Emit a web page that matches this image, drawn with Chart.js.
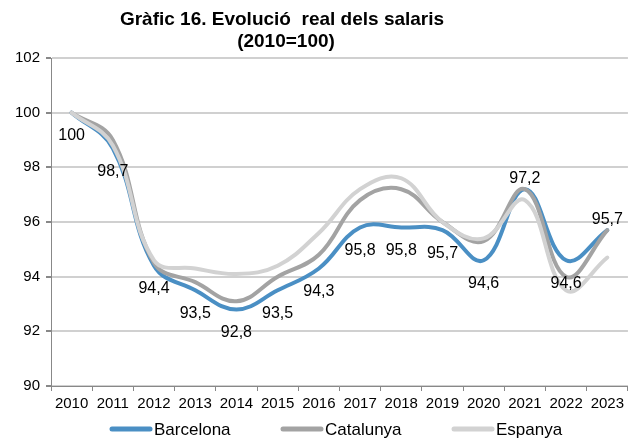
<!DOCTYPE html>
<html>
<head>
    <title>Gràfic 16</title>
    <style>
        body { margin: 0; background: #fff; }
        #wrap { width: 628px; height: 438px; position: relative; }
    </style>
</head>
<body>
    <div id="wrap"><canvas id="chart"></canvas></div>

    <script src="https://cdn.jsdelivr.net/npm/chart.js"></script>
    <script>
        const years = ['2010', '2011', '2012', '2013', '2014', '2015', '2016', '2017', '2018', '2019', '2020', '2021', '2022', '2023'];
        const barcelona = [100, 98.7, 94.4, 93.5, 92.8, 93.5, 94.3, 95.8, 95.8, 95.7, 94.6, 97.2, 94.6, 95.7];
        const catalunya = [100, 99.0, 94.5, 93.8, 93.1, 94.0, 94.8, 96.8, 97.2, 96.0, 95.3, 97.2, 94.0, 95.7];
        const espanya = [100, 98.8, 94.6, 94.3, 94.1, 94.4, 95.6, 97.2, 97.6, 96.0, 95.4, 96.8, 93.5, 94.7];
        // which Barcelona labels sit above the point
        const labelAbove = [false, false, false, false, false, false, false, false, false, false, false, true, false, true];
        const titleLines = ['Gràfic 16. Evolució  real dels salaris', '(2010=100)'];

        const fontName = '"Liberation Sans", Arial, sans-serif';

        // title, value labels and legend drawn on the canvas
        const extras = {
            id: 'extras',
            afterDatasetsDraw(chart) {
                const ctx = chart.ctx;
                ctx.save();
                ctx.fillStyle = '#000';
                ctx.textBaseline = 'middle';

                // title
                ctx.font = 'bold 19px ' + fontName;
                ctx.textAlign = 'center';
                ctx.fillText(titleLines[0], 282, 20);
                ctx.fillText(titleLines[1], 286, 42);

                // Barcelona values
                ctx.font = '16px ' + fontName;
                const meta = chart.getDatasetMeta(0);
                meta.data.forEach((pt, i) => {
                    const txt = barcelona[i].toString().replace('.', ',');
                    const dy = labelAbove[i] ? -11 : 23;
                    ctx.fillText(txt, pt.x, pt.y + dy);
                });

                // legend
                ctx.font = '17px ' + fontName;
                ctx.textAlign = 'left';
                chart.data.datasets.forEach((ds, i) => {
                    const x = 110 + i * 171;
                    ctx.strokeStyle = ds.borderColor;
                    ctx.lineWidth = 5;
                    ctx.lineCap = 'round';
                    ctx.beginPath();
                    ctx.moveTo(x + 2, 429);
                    ctx.lineTo(x + 40, 429);
                    ctx.stroke();
                    ctx.fillText(ds.label, x + 44, 430);
                });
                ctx.restore();
            }
        };

        const ctx = document.getElementById('chart').getContext('2d');
        new Chart(ctx, {
            type: 'line',
            data: {
                labels: years,
                datasets: [{
                    label: 'Barcelona',
                    data: barcelona,
                    borderColor: '#4a8fc4',
                    order: 3
                }, {
                    label: 'Catalunya',
                    data: catalunya,
                    borderColor: '#a3a3a3',
                    order: 2
                }, {
                    label: 'Espanya',
                    data: espanya,
                    borderColor: '#d2d2d2',
                    order: 1
                }]
            },
            options: {
                responsive: true,
                maintainAspectRatio: false,
                animation: false,
                layout: { padding: { left: 0, right: 0, top: 58, bottom: 21 } },
                elements: {
                    line: { borderWidth: 4, tension: 0.4, borderCapStyle: 'round' },
                    point: { radius: 0 }
                },
                plugins: {
                    title: { display: false },
                    legend: { display: false },
                    tooltip: { enabled: false }
                },
                scales: {
                    x: {
                        offset: true,
                        grid: { offset: true, drawOnChartArea: false, tickLength: 5, color: '#888' },
                        border: { color: '#888' },
                        ticks: { font: { family: fontName, size: 15 }, color: '#000', padding: 4, maxRotation: 0, autoSkip: false }
                    },
                    y: {
                        min: 90,
                        max: 102,
                        afterFit: (axis) => { axis.width = 51; },
                        ticks: { stepSize: 2, font: { family: fontName, size: 15 }, color: '#000', padding: 6 },
                        grid: { color: '#d0d0d0', lineWidth: 2, tickLength: 5, tickColor: '#888' },
                        border: { color: '#888' }
                    }
                }
            },
            plugins: [extras]
        });
    </script>
</body>
</html>
